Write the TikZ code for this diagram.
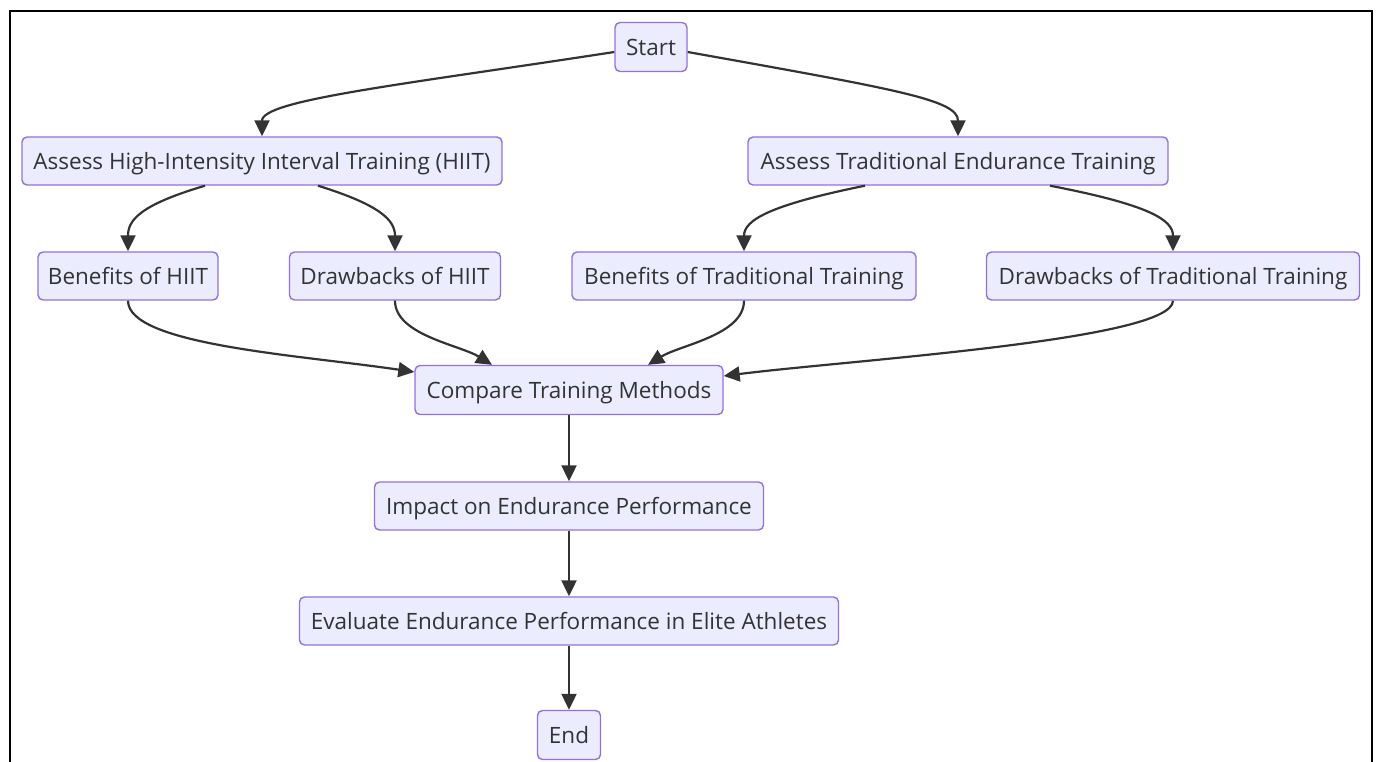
\documentclass[tikz,border=0pt]{standalone}
\usepackage{fontspec}
\setmainfont{Open Sans}
\usetikzlibrary{arrows.meta}
\definecolor{nodefill}{HTML}{ECECFF}
\definecolor{nodeborder}{HTML}{9370DB}
\definecolor{edgecol}{HTML}{333333}
\definecolor{textcol}{HTML}{333333}
\begin{document}
\begin{tikzpicture}[x=1pt,y=-1pt,
  box/.style={draw=nodeborder,fill=nodefill,line width=1.4pt,rounded corners=5pt,
    inner sep=0pt,text=textcol,text height=19pt,text depth=2pt,
    font=\fontsize{22.5}{26}\selectfont},
  edge/.style={draw=edgecol,line width=2.2pt,-{Triangle[length=16pt,width=15pt]}},
  frame/.style={draw=black,line width=2pt}]
\useasboundingbox (0,0) rectangle (1378,762);
\draw[frame] (10,762) -- (10,11) -- (1372,11) -- (1372,762);

\node[box,minimum width=72pt,minimum height=49pt] (start) at (651,47) {Start};
\node[box,minimum width=480pt,minimum height=48pt] (hiit) at (262,161) {Assess High-Intensity Interval Training (HIIT)};
\node[box,minimum width=420pt,minimum height=48pt] (trad) at (958,161) {Assess Traditional Endurance Training};
\node[box,minimum width=180pt,minimum height=48pt] (bh) at (128,276) {Benefits of HIIT};
\node[box,minimum width=211pt,minimum height=48pt] (dh) at (395,276) {Drawbacks of HIIT};
\node[box,minimum width=344pt,minimum height=48pt] (bt) at (744,276) {Benefits of Traditional Training};
\node[box,minimum width=373pt,minimum height=48pt] (dt) at (1173,276) {Drawbacks of Traditional Training};
\node[box,minimum width=308pt,minimum height=49pt] (cmp) at (569,390) {Compare Training Methods};
\node[box,minimum width=389pt,minimum height=48pt] (imp) at (569,506) {Impact on Endurance Performance};
\node[box,minimum width=539pt,minimum height=48pt] (eval) at (569,621) {Evaluate Endurance Performance in Elite Athletes};
\node[box,minimum width=63pt,minimum height=49pt] (end) at (569,735) {End};

\draw[edge] ([yshift=-5pt]start.west) .. controls (400,85) and (262,100) .. (hiit.north);
\draw[edge] ([yshift=-5pt]start.east) .. controls (900,90) and (958,100) .. (trad.north);
\draw[edge] ([xshift=-57pt]hiit.south) .. controls (140,205) and (128,220) .. (bh.north);
\draw[edge] ([xshift=56pt]hiit.south) .. controls (380,205) and (395,220) .. (dh.north);
\draw[edge] ([xshift=-93pt]trad.south) .. controls (770,205) and (744,220) .. (bt.north);
\draw[edge] ([xshift=92pt]trad.south) .. controls (1150,205) and (1173,220) .. (dt.north);
\draw[edge] (bh.south) .. controls (128,345) and (300,355) .. ([yshift=18pt]cmp.west);
\draw[edge] (dh.south) .. controls (395,335) and (460,345) .. ([xshift=-77pt]cmp.north);
\draw[edge] (bt.south) .. controls (744,335) and (680,345) .. ([xshift=79pt]cmp.north);
\draw[edge] (dt.south) .. controls (1173,340) and (850,360) .. ([yshift=14pt]cmp.east);
\draw[edge] (cmp) -- (imp);
\draw[edge] (imp) -- (eval);
\draw[edge] (eval) -- (end);
\end{tikzpicture}
\end{document}
